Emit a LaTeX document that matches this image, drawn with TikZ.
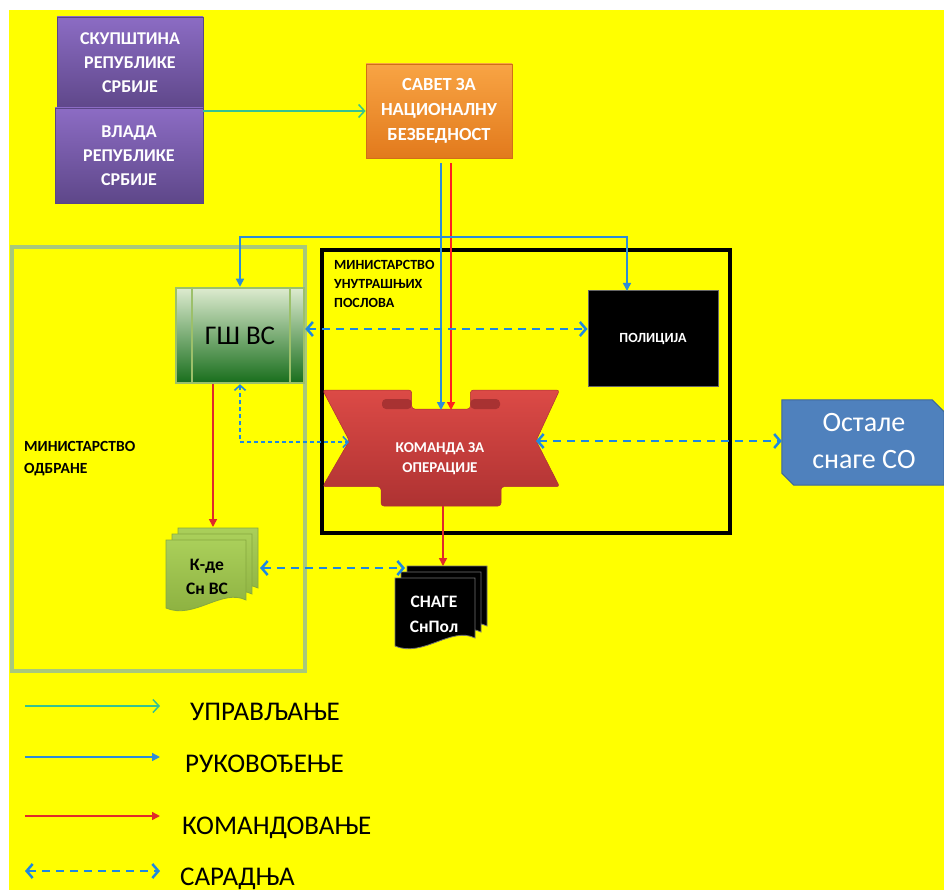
\documentclass[tikz,border=0pt]{standalone}
\usepackage{fontspec}
\setmainfont{Carlito}
\usetikzlibrary{arrows.meta,shadings,calc}
\definecolor{bgyel}{HTML}{FFFF00}
\definecolor{purptop}{HTML}{8C6CC4}
\definecolor{purpbot}{HTML}{5E4789}
\definecolor{purpedge}{HTML}{5A4585}
\definecolor{orgtop}{HTML}{F8A444}
\definecolor{orgbot}{HTML}{E27A1C}
\definecolor{orgedge}{HTML}{D06E18}
\definecolor{gshtop}{HTML}{DDEBCF}
\definecolor{gshbot}{HTML}{186E1C}
\definecolor{gshedge}{HTML}{9CC06A}
\definecolor{moedge}{HTML}{A8C87C}
\definecolor{komtop}{HTML}{DC4A46}
\definecolor{kombot}{HTML}{AE3232}
\definecolor{komdark}{HTML}{A83232}
\definecolor{ostfill}{HTML}{4F81BD}
\definecolor{ostedge}{HTML}{3C679C}
\definecolor{kdtop}{HTML}{AACF5A}
\definecolor{kdbot}{HTML}{8AAE3E}
\definecolor{kdedge}{HTML}{86A83E}
\definecolor{uprcol}{HTML}{36C290}
\definecolor{rukcol}{HTML}{2E8CD6}
\definecolor{komcol}{HTML}{E02A2A}
\definecolor{komred}{HTML}{FF2020}
\definecolor{sarcol}{HTML}{1E88E0}
\newcommand\mdocshape[4]{%
  \foreach \dd in {12,6,0}{%
    \path[#3, draw=#4, line width=0.8]
      ({#1+\dd},{#2-\dd}) -- ({#1+\dd+80},{#2-\dd}) -- ({#1+\dd+80},{#2-\dd+60})
      .. controls ({#1+\dd+56},{#2-\dd+48}) and ({#1+\dd+28},{#2-\dd+80}) .. ({#1+\dd},{#2-\dd+68}) -- cycle;
  }}
\begin{document}
\begin{tikzpicture}[x=1pt,y=-1pt,
  every node/.style={inner sep=0pt, align=center},
  purpbox/.style={draw=purpedge, line width=0.8pt, top color=purptop, bottom color=purpbot,
     text=white, font=\bfseries\fontsize{18}{24}\selectfont},
  orgbox/.style={draw=orgedge, line width=0.8pt, top color=orgtop, bottom color=orgbot,
     text=white, font=\bfseries\fontsize{18.5}{25}\selectfont},
  gshbox/.style={draw=gshedge, line width=2.5pt, top color=gshtop, bottom color=gshbot,
     text=black, font=\fontsize{27}{30}\selectfont},
  upr/.style={draw=uprcol, line width=1.5pt, -{Straight Barb[length=6pt,width=13pt,line width=1.5pt]}},
  ruk/.style={draw=rukcol, line width=1.5pt, -{Triangle[length=8pt,width=8pt]}},
  kom/.style={draw=komcol, line width=1.5pt, -{Triangle[length=8pt,width=8pt]}},
  sar/.style={draw=sarcol, line width=2.5pt, dash pattern=on 8pt off 6pt,
     {Straight Barb[length=6pt,width=14pt,line width=2.5pt]}-{Straight Barb[length=6pt,width=14pt,line width=2.5pt]}},
  sarthin/.style={draw=sarcol, line width=1.6pt, dash pattern=on 4pt off 3pt,
     {Straight Barb[length=5pt,width=11pt,line width=1.6pt]}-{Straight Barb[length=5pt,width=11pt,line width=1.6pt]}},
  legtext/.style={anchor=base west, text=black, font=\fontsize{27}{30}\selectfont},
  grplabel/.style={anchor=west, align=left, text=black, font=\bfseries\fontsize{14}{19}\selectfont}
]
\useasboundingbox (0,0) rectangle (944,890);
\fill[white] (0,0) rectangle (944,890);
\fill[bgyel] (9,10) rectangle (944,890);

% group frames
\draw[moedge, line width=4pt] (12,247) rectangle (305,671);
\draw[black, line width=3.5pt] (322,250) rectangle (730,533);
\node[grplabel, font=\bfseries\fontsize{15.5}{22}\selectfont] (molabel) at (24,459) {МИНИСТАРСТВО\\ОДБРАНЕ};
\node[grplabel] (muplabel) at (334,284) {МИНИСТАРСТВО\\УНУТРАШЊИХ\\ПОСЛОВА};

% top boxes
\node[purpbox, minimum width=146pt, minimum height=92pt] (skup) at (130,63) {СКУПШТИНА\\РЕПУБЛИКЕ\\СРБИЈЕ};
\node[purpbox, minimum width=148pt, minimum height=95pt] (vlada) at (129,155.5) {ВЛАДА\\РЕПУБЛИКЕ\\СРБИЈЕ};
\node[orgbox, minimum width=146pt, minimum height=94pt] (savet) at (439,111) {САВЕТ ЗА\\НАЦИОНАЛНУ\\БЕЗБЕДНОСТ};

% GS VS
\node[gshbox, minimum width=128pt, minimum height=95pt] (gsh) at (240,335.5) {ГШ ВС};
\draw[gshedge, line width=2pt] ([xshift=17pt]gsh.north west) -- ([xshift=17pt]gsh.south west);
\draw[gshedge, line width=2pt] ([xshift=-15pt]gsh.north east) -- ([xshift=-15pt]gsh.south east);

% Policija
\node[fill=black, draw=black!60, line width=1pt, minimum width=130pt, minimum height=95pt,
      text=white, font=\bfseries\fontsize{14}{16}\selectfont] (polic) at (653,338.5) {ПОЛИЦИЈА};

% Komanda ribbon
\path[top color=komtop, bottom color=kombot, draw=kombot, line width=0.5pt, rounded corners=3pt]
 (322.6,390) -- (411.7,390) -- (411.7,409) -- (470.4,409) -- (470.4,390) -- (559.6,390)
 -- (536.1,440.7) -- (559.6,486.7) -- (501,486.7) -- (501,506) -- (381,506) -- (381,486.7)
 -- (322.6,486.7) -- (349.3,440.7) -- cycle;
\fill[komdark, rounded corners=4pt] (382,399) rectangle (411.7,409);
\fill[komdark, rounded corners=4pt] (470.4,399) rectangle (500,409);
\node[text=white, font=\bfseries\fontsize{15}{20}\selectfont] (komanda) at (440,459) {КОМАНДА ЗА\\ОПЕРАЦИЈЕ};
\coordinate (komN) at (441,410);
\coordinate (komNr) at (451,410);
\coordinate (komW) at (349,442);
\coordinate (komE) at (536,441);
\coordinate (komS) at (443,506);

% Ostale
\node[minimum width=162pt, minimum height=85pt] (ostale) at (863,442.5) {};
\path[fill=ostfill, draw=ostedge, line width=1pt] (ostale.north west) -- ([xshift=-12pt]ostale.north east)
  -- ([yshift=-12pt]ostale.north east) -- (ostale.south east) -- ([xshift=12pt]ostale.south west)
  -- ([yshift=12pt]ostale.south west) -- cycle;
\node[text=white, font=\fontsize{28}{37}\selectfont] (ostaletext) at (864,441.5) {Остале\\снаге СО};

% multi documents
\mdocshape{166}{540}{top color=kdtop, bottom color=kdbot}{kdedge}
\node[text=black, font=\bfseries\fontsize{17.5}{24}\selectfont] (kde) at (207,577) {К-де\\Сн ВС};
\coordinate (kdeN) at (213,527);
\coordinate (kdeE) at (260,568);
\mdocshape{395}{578}{fill=black}{black!55}
\node[text=white, font=\bfseries\fontsize{17.5}{25}\selectfont] (snage) at (434,614.5) {СНАГЕ\\СнПол};
\coordinate (snN) at (443,566);
\coordinate (snW) at (405,568);

% connectors
\draw[upr] (savet.west -| vlada.east) -- (savet.west);
\draw[ruk] ([xshift=2pt,yshift=-5pt]savet.south) -- (komN);
\draw[draw=komred, line width=1.5pt, -{Triangle[length=8pt,width=8pt]}] ([xshift=12pt,yshift=-5pt]savet.south) -- (komNr);
\coordinate (bj) at (441,237);
\coordinate (polN) at (627,291);
\draw[ruk] (bj) -| (gsh.north);
\draw[ruk] (bj) -| (polN);
\draw[sar] ([yshift=6.5pt]gsh.east) -- ([yshift=9.5pt]polic.west);
\draw[sarthin] (gsh.south) |- (komW);
\draw[sar] (komE) -- (komE -| ostale.west);
\draw[kom] (gsh.south -| kdeN) -- (kdeN);
\draw[kom] (komS) -- (snN);
\draw[sar] (kdeE) -- (snW);

% legend
\coordinate (l1a) at (25,706); \coordinate (l1b) at (160,706);
\coordinate (l2a) at (25,757); \coordinate (l2b) at (160,757);
\coordinate (l3a) at (25,816); \coordinate (l3b) at (160,816);
\coordinate (l4a) at (25,871); \coordinate (l4b) at (160,871);
\draw[upr] (l1a) -- (l1b);
\draw[ruk] (l2a) -- (l2b);
\draw[kom] (l3a) -- (l3b);
\draw[sar] (l4a) -- (l4b);
\node[legtext] (t1) at (190,720) {УПРАВЉАЊЕ};
\node[legtext] (t2) at (185,772) {РУКОВОЂЕЊЕ};
\node[legtext] (t3) at (182,834) {КОМАНДОВАЊЕ};
\node[legtext] (t4) at (180,885) {САРАДЊА};
\end{tikzpicture}
\end{document}
